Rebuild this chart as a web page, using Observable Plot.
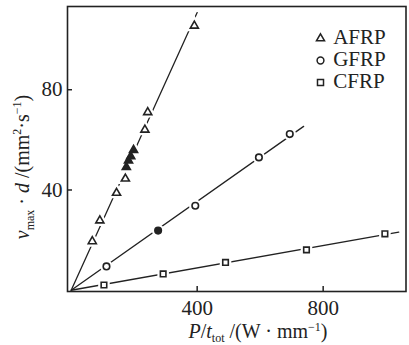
<!DOCTYPE html>
<html>
<head>
<meta charset="utf-8">
<script src="https://cdn.jsdelivr.net/npm/d3@7"></script>
<script src="https://cdn.jsdelivr.net/npm/@observablehq/plot@0.6"></script>
<style>
  html, body { margin: 0; padding: 0; background: #fff; }
</style>
</head>
<body>
<div id="chart"></div>
<script>
// ---- data ----
const seriesNames = ["AFRP", "GFRP", "CFRP"];
const seriesSymbols = ["triangle", "circle", "square"];

const afrpX = [67, 91, 144, 172, 234, 243, 391];
const afrpY = [19.5, 27.8, 38.8, 44.5, 64, 71, 105.5];
const afrpFilledX = [175, 182, 189, 198];
const afrpFilledY = [49.1, 51.7, 53.4, 55.9];

const gfrpX = [112, 394, 596, 694];
const gfrpY = [9.5, 33.7, 53, 62.3];
const gfrpFilledX = [276];
const gfrpFilledY = [23.8];

const cfrpX = [104, 292, 490, 747, 996];
const cfrpY = [2.1, 6.5, 11.1, 16.1, 22.5];

const fitEndX = [400, 738, 1040];   // where each fitted line stops

const xTicks = [400, 800];
const yTicks = [40, 80];
const xDomain = [-11.7, 1063];
const yDomain = [-0.5, 113.2];

// ---- build tables ----
const pts = (xs, ys, s, filled) => xs.map((x, i) => ({x, y: ys[i], s, filled}));
const points = [
  ...pts(afrpX, afrpY, "AFRP", false),
  ...pts(afrpFilledX, afrpFilledY, "AFRP", true),
  ...pts(gfrpX, gfrpY, "GFRP", false),
  ...pts(gfrpFilledX, gfrpFilledY, "GFRP", true),
  ...pts(cfrpX, cfrpY, "CFRP", false)
];
// least-squares slope through the origin for each series
const lines = [];
seriesNames.forEach((name, i) => {
  const p = points.filter(d => d.s === name);
  const k = d3.sum(p, d => d.x * d.y) / d3.sum(p, d => d.x * d.x);
  lines.push({s: name, x: 0, y: 0});
  lines.push({s: name, x: fitEndX[i], y: k * fitEndX[i]});
});
const symbolOf = d => seriesSymbols[seriesNames.indexOf(d.s)];
const rOf = d => d.s === "AFRP" ? 4.2 : d.s === "GFRP" ? 5 : 4.6;

const W = 409, H = 345;
const mL = 67, mR = 3.5, mT = 6, mB = 54;
const innerW = W - mL - mR, innerH = H - mT - mB;
const ink = "#222";
const font = "'Liberation Serif', 'Times New Roman', serif";

const legendMarks = [];
seriesNames.forEach((name, i) => {
  legendMarks.push(Plot.dot([name], {
    frameAnchor: "top-right", dx: -85.5, dy: 32 + 22 * i,
    symbol: seriesSymbols[i], r: i === 0 ? 3 : 3.4,
    stroke: ink, strokeWidth: 1.5, fill: "white"
  }));
  legendMarks.push(Plot.text([name], {
    text: d => d, frameAnchor: "top-right", dx: -72.8, dy: 30.3 + 22.4 * i,
    textAnchor: "start", lineAnchor: "middle", fontSize: 21, fill: ink
  }));
});

const svg = Plot.plot({
  width: W, height: H,
  marginLeft: mL, marginRight: mR, marginTop: mT, marginBottom: mB,
  style: {fontFamily: font, fontSize: "21px", color: ink, background: "white"},
  x: {domain: xDomain},
  y: {domain: yDomain},
  marks: [
    Plot.line(lines, {x: "x", y: "y", z: "s", stroke: ink, strokeWidth: 1.3}),
    // white halo to break the line around each marker
    Plot.dot(points, {x: "x", y: "y", symbol: symbolOf, r: rOf, stroke: "white", strokeWidth: 6, fill: "white"}),
    Plot.dot(points, {x: "x", y: "y", symbol: symbolOf, r: rOf, stroke: ink, strokeWidth: 1.6,
      fill: d => d.filled ? ink : "white"}),
    Plot.ruleX(xTicks, {x: d => d, stroke: ink, strokeWidth: 1.5, insetTop: innerH - 5}),
    Plot.ruleY(yTicks, {y: d => d, stroke: ink, strokeWidth: 1.5, insetRight: innerW - 5}),
    Plot.axisX({ticks: xTicks, tickSize: 0, tickPadding: 9, label: null, fontSize: 21}),
    Plot.axisY({ticks: yTicks, tickSize: 0, tickPadding: 5, label: null, fontSize: 21}),
    Plot.frame({stroke: ink, strokeWidth: 1.6}),
    ...legendMarks
  ]
});

const s = d3.select(svg);
// y axis title
const yt = s.append("text")
  .attr("transform", "translate(29,167) rotate(-90)")
  .attr("text-anchor", "middle")
  .attr("font-family", font).attr("font-size", 20).attr("fill", ink);
yt.append("tspan").attr("font-style", "italic").text("v");
yt.append("tspan").attr("font-size", 12).attr("dy", 5).text("max");
yt.append("tspan").attr("dy", -5).text(" · ");
yt.append("tspan").attr("font-style", "italic").text("d");
yt.append("tspan").text(" /(mm");
yt.append("tspan").attr("font-size", 12).attr("dy", -8).text("2");
yt.append("tspan").attr("dy", 8).text("·s");
yt.append("tspan").attr("font-size", 12).attr("dy", -8).text("−1");
yt.append("tspan").attr("dy", 8).text(")");

// x axis title
const xt = s.append("text")
  .attr("x", 258).attr("y", 338)
  .attr("text-anchor", "middle")
  .attr("font-family", font).attr("font-size", 20).attr("fill", ink);
xt.append("tspan").attr("font-style", "italic").text("P");
xt.append("tspan").text("/");
xt.append("tspan").attr("font-style", "italic").text("t");
xt.append("tspan").attr("font-size", 12).attr("dy", 4).text("tot");
xt.append("tspan").attr("dy", -4).text(" /(W · mm");
xt.append("tspan").attr("font-size", 12).attr("dy", -7).text("−1");
xt.append("tspan").attr("dy", 7).text(")");

document.getElementById("chart").appendChild(svg);
</script>
</body>
</html>
